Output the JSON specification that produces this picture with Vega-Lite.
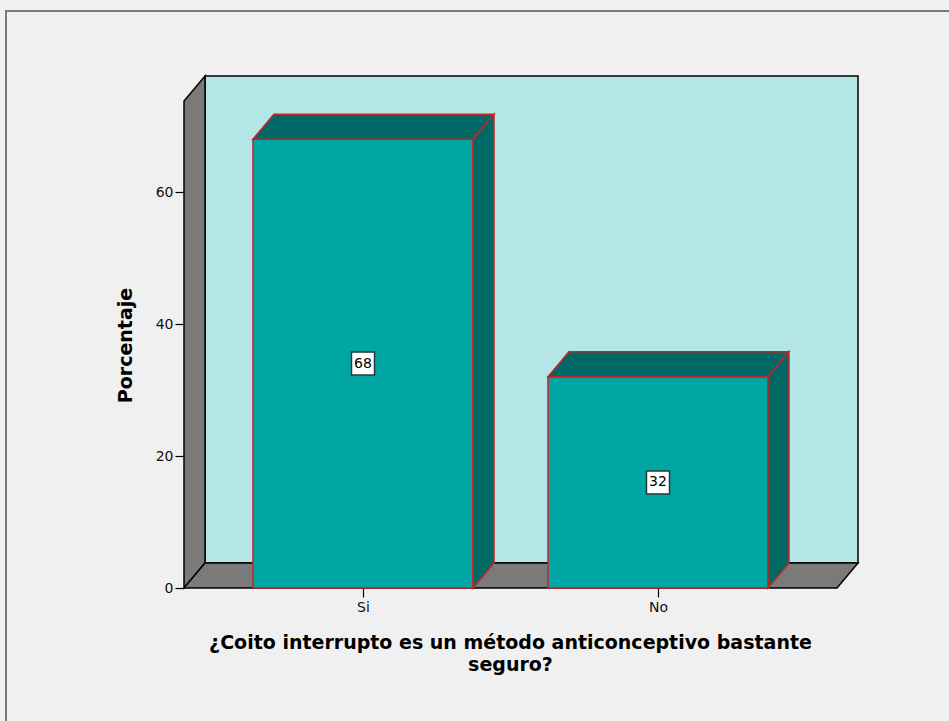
{
  "$schema": "https://vega.github.io/schema/vega-lite/v6.json",
  "width": 674,
  "height": 512,
  "autosize": {"type": "none"},
  "padding": {"left": 184, "top": 76, "right": 91, "bottom": 133},
  "background": "#f0f0f0",
  "config": {
    "view": {"stroke": null},
    "font": "DejaVu Sans",
    "axis": {
      "domain": false,
      "grid": false,
      "tickColor": "#000000",
      "tickWidth": 1.2,
      "tickSize": 9,
      "labelColor": "#111111",
      "labelFont": "DejaVu Sans",
      "labelFontSize": 14,
      "titleFont": "DejaVu Sans",
      "titleFontSize": 19,
      "titleFontWeight": "bold",
      "titleColor": "#000000"
    }
  },
  "datasets": {
    "respuestas": [
      {"respuesta": "Si", "porcentaje": 68},
      {"respuesta": "No", "porcentaje": 32}
    ],
    "esquinas": [{"k": 0}, {"k": 1}]
  },
  "layer": [
    {
      "data": {"name": "esquinas"},
      "transform": [{"filter": "datum.k == 0"}],
      "mark": {"type": "rect", "fill": null, "fillOpacity": 0, "stroke": "#7a7a7a", "strokeWidth": 2, "clip": false},
      "encoding": {
        "x": {"datum": -1.2102, "type": "quantitative"},
        "x2": {"datum": 2.12},
        "y": {"datum": -22, "type": "quantitative"},
        "y2": {"datum": 87.42}
      }
    },
    {
      "data": {"name": "esquinas"},
      "transform": [{"filter": "datum.k == 0"}],
      "mark": {"type": "rect", "fill": "#b4e6e7", "stroke": "#000000", "strokeWidth": 1.5},
      "encoding": {
        "x": {
          "datum": -0.5356,
          "type": "quantitative",
          "scale": {"domain": [-0.6068, 1.678], "nice": false, "zero": false},
          "axis": {
            "values": [0, 1],
            "labelExpr": "datum.value == 0 ? 'Si' : 'No'",
            "labelPadding": 3,
            "title": ["¿Coito interrupto es un método anticonceptivo bastante", "seguro?"],
            "titlePadding": 19,
            "titleLineHeight": 22,
            "titleX": 326
          }
        },
        "x2": {"datum": 1.678},
        "y": {
          "datum": 3.788,
          "type": "quantitative",
          "scale": {"domain": [0, 77.58], "nice": false, "zero": true},
          "axis": {
            "values": [0, 20, 40, 60],
            "labelPadding": 2,
            "title": "Porcentaje",
            "titlePadding": 20,
            "titleY": 269
          }
        },
        "y2": {"datum": 77.58}
      }
    },
    {
      "data": {"name": "esquinas"},
      "transform": [
        {"calculate": "-0.6068 + datum.k * 0.0712", "as": "xs"},
        {"calculate": "datum.k * 3.788", "as": "yb"},
        {"calculate": "73.79 + datum.k * 3.788", "as": "yt"}
      ],
      "mark": {"type": "area", "orient": "vertical", "fill": "#7a7a7a", "fillOpacity": 1, "stroke": "#000000", "strokeWidth": 1.5},
      "encoding": {
        "x": {"field": "xs", "type": "quantitative"},
        "y": {"field": "yb", "type": "quantitative"},
        "y2": {"field": "yt"}
      }
    },
    {
      "data": {"name": "esquinas"},
      "transform": [
        {"calculate": "datum.k * 3.788", "as": "yf"},
        {"calculate": "-0.6068 + datum.k * 0.0712", "as": "xl"},
        {"calculate": "1.6068 + datum.k * 0.0712", "as": "xr"}
      ],
      "mark": {"type": "area", "orient": "horizontal", "fill": "#7a7a7a", "fillOpacity": 1, "stroke": "#000000", "strokeWidth": 1.5},
      "encoding": {
        "y": {"field": "yf", "type": "quantitative"},
        "x": {"field": "xl", "type": "quantitative"},
        "x2": {"field": "xr"}
      }
    },
    {
      "data": {"name": "respuestas"},
      "transform": [
        {"window": [{"op": "row_number", "as": "rn"}]},
        {"calculate": "datum.rn - 1 - 0.3729", "as": "xl"},
        {"calculate": "datum.rn - 1 + 0.3729", "as": "xr"}
      ],
      "mark": {"type": "rect", "fill": "#00a6a4", "stroke": "#cc2222", "strokeWidth": 1.5},
      "encoding": {
        "x": {"field": "xl", "type": "quantitative"},
        "x2": {"field": "xr"},
        "y": {"field": "porcentaje", "type": "quantitative"},
        "y2": {"datum": 0}
      }
    },
    {
      "data": {"name": "respuestas"},
      "transform": [
        {"window": [{"op": "row_number", "as": "rn"}]},
        {"calculate": "[0, 1]", "as": "k"},
        {"flatten": ["k"]},
        {"calculate": "datum.porcentaje + datum.k * 3.788", "as": "yf"},
        {"calculate": "datum.rn - 1 - 0.3729 + datum.k * 0.0712", "as": "xl"},
        {"calculate": "datum.rn - 1 + 0.3729 + datum.k * 0.0712", "as": "xr"}
      ],
      "mark": {"type": "area", "orient": "horizontal", "fill": "#006865", "fillOpacity": 1, "stroke": "#cc2222", "strokeWidth": 1.5},
      "encoding": {
        "detail": {"field": "respuesta"},
        "y": {"field": "yf", "type": "quantitative"},
        "x": {"field": "xl", "type": "quantitative"},
        "x2": {"field": "xr"}
      }
    },
    {
      "data": {"name": "respuestas"},
      "transform": [
        {"window": [{"op": "row_number", "as": "rn"}]},
        {"calculate": "[0, 1]", "as": "k"},
        {"flatten": ["k"]},
        {"calculate": "datum.rn - 1 + 0.3729 + datum.k * 0.0712", "as": "xs"},
        {"calculate": "datum.k * 3.788", "as": "yb"},
        {"calculate": "datum.porcentaje + datum.k * 3.788", "as": "yt"}
      ],
      "mark": {"type": "area", "orient": "vertical", "fill": "#006865", "fillOpacity": 1, "stroke": "#cc2222", "strokeWidth": 1.5},
      "encoding": {
        "detail": {"field": "respuesta"},
        "x": {"field": "xs", "type": "quantitative"},
        "y": {"field": "yb", "type": "quantitative"},
        "y2": {"field": "yt"}
      }
    },
    {
      "data": {"name": "respuestas"},
      "transform": [
        {"window": [{"op": "row_number", "as": "rn"}]},
        {"calculate": "datum.rn - 1", "as": "xc"},
        {"calculate": "datum.porcentaje / 2", "as": "ym"}
      ],
      "mark": {"type": "point", "shape": "square", "size": 530, "filled": true, "fill": "#ffffff", "fillOpacity": 1, "stroke": "#1f3a3a", "strokeWidth": 1.5},
      "encoding": {
        "x": {"field": "xc", "type": "quantitative"},
        "y": {"field": "ym", "type": "quantitative"}
      }
    },
    {
      "data": {"name": "respuestas"},
      "transform": [
        {"window": [{"op": "row_number", "as": "rn"}]},
        {"calculate": "datum.rn - 1", "as": "xc"},
        {"calculate": "datum.porcentaje / 2", "as": "ym"}
      ],
      "mark": {"type": "text", "fontSize": 14, "color": "#000000", "align": "center", "baseline": "middle", "font": "DejaVu Sans"},
      "encoding": {
        "x": {"field": "xc", "type": "quantitative"},
        "y": {"field": "ym", "type": "quantitative"},
        "text": {"field": "porcentaje", "type": "quantitative"}
      }
    }
  ]
}
